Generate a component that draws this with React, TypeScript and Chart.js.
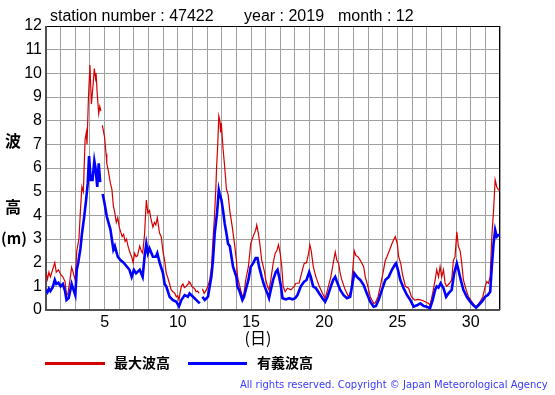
import React, { useEffect, useRef } from "react";
import { Chart, registerables } from "chart.js";

Chart.register(...registerables);

// ---- data (day of month as fractional time, wave height in metres) ----
const redDays = [
  1.0, 1.1, 1.2, 1.3, 1.45, 1.6, 1.7, 1.85, 2.0, 2.15, 2.3, 2.4, 2.5, 2.6, 2.75, 2.85, 3.0, 3.1, 3.25, 3.35,
  3.45, 3.55, 3.67, 3.75, 3.8, 3.9, 4.0, 4.1, 4.2, 4.3, 4.38, 4.42, 4.5, 4.6, 4.67, 4.75, 4.8, 4.85, 5.0, 5.1,
  5.15, 5.25, 5.4, 5.5, 5.6, 5.7, 5.8, 5.9, 6.0, 6.1, 6.2, 6.3, 6.4, 6.5, 6.6, 6.75, 6.85, 6.95, 7.05, 7.15,
  7.25, 7.4, 7.5, 7.6, 7.73, 7.85, 7.95, 8.07, 8.15, 8.3, 8.4, 8.5, 8.6, 8.75, 8.87, 8.98, 9.1, 9.21, 9.3, 9.44,
  9.55, 9.67, 9.8, 9.9, 10.0, 10.08, 10.15, 10.24, 10.35, 10.45, 10.58, 10.7, 10.76, 10.85, 10.95, 11.05, 11.15, 11.25, 11.35, 11.45,
  11.55, 11.68, 11.8, 11.95, 12.05, 12.18, 12.3, 12.4, 12.5, 12.6, 12.65, 12.72, 12.8, 12.87, 12.92, 12.97, 13.09, 13.2, 13.32, 13.43,
  13.55, 13.72, 13.89, 14.0, 14.08, 14.23, 14.41, 14.52, 14.64, 14.82, 14.98, 15.14, 15.32, 15.39, 15.5, 15.6, 15.73, 15.89, 16.01, 16.12,
  16.23, 16.35, 16.51, 16.65, 16.76, 16.87, 16.99, 17.1, 17.19, 17.33, 17.49, 17.72, 17.95, 18.06, 18.28, 18.47, 18.63, 18.79, 18.93, 19.02,
  19.11, 19.25, 19.43, 19.66, 19.88, 20.06, 20.22, 20.45, 20.61, 20.75, 20.86, 20.98, 21.09, 21.2, 21.43, 21.66, 21.84, 21.96, 22.05, 22.16,
  22.3, 22.46, 22.69, 22.8, 22.98, 23.14, 23.37, 23.48, 23.67, 23.83, 24.05, 24.17, 24.28, 24.44, 24.62, 24.76, 24.85, 24.99, 25.08, 25.22,
  25.35, 25.54, 25.76, 25.95, 26.17, 26.4, 26.63, 26.9, 27.13, 27.22, 27.4, 27.57, 27.68, 27.8, 27.91, 28.02, 28.14, 28.25, 28.36, 28.55,
  28.7, 28.82, 28.93, 29.05, 29.16, 29.28, 29.39, 29.5, 29.69, 29.85, 30.08, 30.3, 30.46, 30.64, 30.83, 30.99, 31.1, 31.21, 31.33, 31.44,
  31.56, 31.67, 31.78, 31.9, 32.0,
];
const redVals = [
  1.6, 1.3, 1.6, 1.4, 1.7, 2.0, 1.6, 1.7, 1.5, 1.4, 1.2, 0.6, 0.7, 1.1, 1.8, 1.6, 1.25, 2.5, 3.0, 4.2,
  5.2, 5.0, 7.2, 7.5, 7.0, 9.0, 10.35, 8.7, 9.4, 10.2, 9.8, 10.0, 9.1, 8.3, 8.6, 8.4, null, 7.8, 7.3, 6.6,
  6.2, 5.9, 5.35, 5.1, 4.4, 4.1, 3.7, 3.9, 3.5, 3.3, 3.1, 3.2, 2.9, 3.0, 2.7, 2.4, 2.25, 2.0, 2.4, 2.25,
  2.3, 2.7, 2.5, 2.4, 3.2, 4.65, 4.1, 4.2, 3.9, 3.5, 3.7, 3.6, 3.9, 3.25, 3.1, 2.5, 2.1, 1.55, 1.4, 1.1,
  0.85, 0.77, 0.7, 0.56, 0.6, 0.42, 0.7, 1.0, 1.1, 0.95, 1.0, 1.1, 1.2, 1.15, 1.0, 0.95, 0.9, 0.77, 0.8, 0.7,
  null, 0.9, 0.7, 0.85, 1.0, 1.27, 1.8, 2.95, 3.9, 5.2, 6.05, 6.9, 8.2, 8.0, 7.5, 7.9, 6.8, 6.05, 5.1, 4.9,
  4.2, 3.5, 2.7, 2.1, 1.4, 1.0, 0.56, 0.7, 1.27, 1.83, 2.8, 3.1, 3.38, 3.6, 3.24, 2.8, 2.1, 1.7, 1.27, 1.0,
  0.85, 1.27, 1.97, 2.4, 2.5, 2.75, 2.4, 1.83, 1.0, 0.77, 0.92, 0.85, 1.0, 1.13, 1.13, 1.6, 1.97, 2.0, 2.4, 2.75,
  2.5, 1.83, 1.4, 1.0, 0.7, 0.5, 0.85, 1.4, 1.97, 2.45, 2.1, 1.97, 1.55, 1.27, 0.85, 0.56, 0.85, 1.83, 2.5, 2.3,
  2.25, 2.1, 1.83, 1.4, 1.0, 0.56, 0.28, 0.3, 0.56, 1.0, 1.7, 2.1, 2.25, 2.5, 2.8, 3.0, 3.1, 2.8, 2.25, 1.97,
  1.48, 1.0, 0.92, 0.56, 0.42, 0.45, 0.42, 0.35, 0.28, 0.2, 0.7, 1.27, 1.7, 1.4, 1.83, 1.4, 1.7, 1.13, 1.0, 1.13,
  1.27, 2.1, 2.25, 3.3, 2.68, 2.5, 1.97, 1.27, 0.85, 0.56, 0.35, 0.14, 0.2, 0.35, 0.56, 1.0, 1.2, 1.13, 1.4, 3.1,
  4.2, 5.5, 5.2, 5.07, 5.07,
];

const blueDays = [
  1.0, 1.1, 1.2, 1.3, 1.45, 1.6, 1.7, 1.85, 2.0, 2.15, 2.3, 2.4, 2.55, 2.65, 2.75, 2.85, 3.0, 3.1, 3.2, 3.35,
  3.45, 3.6, 3.73, 3.85, 3.94, 4.05, 4.18, 4.3, 4.38, 4.5, 4.6, 4.7, 4.78, 4.87, 5.0, 5.15, 5.4, 5.6, 5.7, 5.9,
  6.1, 6.3, 6.5, 6.7, 6.85, 7.0, 7.15, 7.4, 7.6, 7.73, 7.85, 7.96, 8.07, 8.3, 8.5, 8.6, 8.76, 8.99, 9.1, 9.21,
  9.44, 9.67, 9.9, 10.08, 10.24, 10.47, 10.69, 10.8, 11.04, 11.27, 11.5, 11.58, 11.68, 11.84, 12.06, 12.29, 12.4, 12.52, 12.68, 12.8,
  12.86, 12.98, 13.09, 13.2, 13.32, 13.43, 13.55, 13.77, 14.0, 14.07, 14.23, 14.41, 14.52, 14.64, 14.82, 14.98, 15.14, 15.32, 15.44, 15.55,
  15.73, 15.89, 16.12, 16.23, 16.35, 16.51, 16.69, 16.81, 16.92, 17.03, 17.15, 17.38, 17.6, 17.83, 18.01, 18.17, 18.4, 18.63, 18.79, 18.97,
  19.08, 19.24, 19.43, 19.66, 19.88, 20.06, 20.22, 20.45, 20.61, 20.75, 20.86, 21.09, 21.32, 21.55, 21.77, 21.93, 22.05, 22.23, 22.46, 22.69,
  22.91, 23.14, 23.37, 23.53, 23.71, 23.94, 24.17, 24.4, 24.62, 24.81, 24.9, 25.03, 25.19, 25.42, 25.65, 25.88, 26.1, 26.33, 26.56, 26.79,
  27.0, 27.22, 27.4, 27.57, 27.68, 27.8, 27.95, 28.14, 28.32, 28.48, 28.7, 28.87, 29.05, 29.16, 29.32, 29.5, 29.73, 29.96, 30.19, 30.37,
  30.53, 30.76, 30.99, 31.17, 31.33, 31.44, 31.56, 31.67, 31.78, 31.9, 32.0,
];
const blueVals = [
  0.85, 0.75, 0.9, 0.8, 0.95, 1.27, 1.1, 1.15, 1.0, 1.1, 0.8, 0.42, 0.5, 0.8, 1.1, 0.9, 0.63, 1.7, 2.0, 2.6,
  3.2, 3.9, 4.6, 5.35, 6.5, 5.5, 5.5, 6.3, 6.0, 5.2, 6.2, 5.4, null, 4.9, 4.5, 3.95, 3.4, 2.55, 2.7, 2.25,
  2.1, 2.0, 1.85, 1.7, 1.4, 1.7, 1.55, 1.7, 1.4, 2.25, 2.8, 2.4, 2.6, 2.25, 2.25, 2.4, 2.0, 1.55, 1.1, 1.0,
  0.56, 0.42, 0.35, 0.15, 0.42, 0.63, 0.56, 0.7, 0.56, 0.42, 0.28, null, 0.56, 0.42, 0.56, 1.4, 2.1, 3.24, 4.1, 5.07,
  4.9, 4.65, 4.2, 3.66, 3.24, 2.8, 2.7, 1.83, 1.4, 1.0, 0.77, 0.42, 0.56, 0.85, 1.27, 1.83, 1.97, 2.2, 2.2, 1.83,
  1.4, 1.05, 0.7, 0.5, 0.85, 1.27, 1.6, 1.7, 1.4, 1.05, 0.5, 0.45, 0.5, 0.45, 0.5, 0.63, 1.0, 1.2, 1.27, 1.6,
  1.4, 1.0, 0.92, 0.7, 0.5, 0.35, 0.56, 1.0, 1.27, 1.4, 1.2, 0.85, 0.63, 0.5, 0.56, 1.13, 1.55, 1.4, 1.27, 1.05,
  0.7, 0.35, 0.14, 0.17, 0.42, 0.85, 1.27, 1.4, 1.7, 1.9, 1.97, 1.7, 1.27, 0.92, 0.63, 0.42, 0.14, 0.2, 0.28, 0.17,
  0.14, 0.07, 0.42, 0.85, 1.0, 0.95, 1.13, 0.92, 0.56, 0.7, 0.85, 1.55, 1.97, 1.7, 1.27, 0.85, 0.56, 0.35, 0.2, 0.1,
  0.2, 0.35, 0.56, 0.63, 0.77, 1.83, 2.8, 3.38, 3.1, 3.17, 3.17,
];

const yTicks = [0, 1, 2, 3, 4, 5, 6, 7, 8, 9, 10, 11, 12];
const xLabelDays = [5, 10, 15, 20, 25, 30];

const titleParts = ["station number : 47422", "year : 2019", "month : 12"];
const seriesNames = ["最大波高", "有義波高"];
const yTitleChars = ["波", "高", "(m)"];
const xTitle = "(日)";
const copyright = "All rights reserved. Copyright © Japan Meteorological Agency";

const RED = "#d40000";
const BLUE = "#0000ff";

const toPoints = (days: number[], vals: (number | null)[]) =>
  days.map((d, i) => ({ x: d, y: vals[i] }));

const decorPlugin = {
  id: "decor",
  beforeDatasetsDraw(chart: any) {
    const { ctx, chartArea } = chart;
    const { left, top, right, bottom } = chartArea;
    ctx.save();
    ctx.strokeStyle = "#000";
    ctx.lineWidth = 1;
    ctx.strokeRect(left + 0.5, top + 0.5, right - left - 1, bottom - top - 1);
    ctx.fillStyle = "#505050";
    ctx.fillRect(left - 1, top, 2, bottom - top + 1);
    ctx.fillRect(left - 1, bottom - 1, right - left + 1, 2);
    ctx.restore();
  },
  afterDraw(chart: any) {
    const { ctx } = chart;
    ctx.save();
    // title
    ctx.fillStyle = "#000";
    ctx.font = '16px "Liberation Sans", Arial, sans-serif';
    ctx.textBaseline = "alphabetic";
    ctx.textAlign = "left";
    ctx.fillText(titleParts[0], 50, 21);
    ctx.fillText(titleParts[1], 244, 21);
    ctx.fillText(titleParts[2], 338, 21);

    // y title
    ctx.textAlign = "center";
    ctx.textBaseline = "middle";
    ctx.font = 'bold 16px "Noto Sans CJK JP", sans-serif';
    ctx.fillText(yTitleChars[0], 13, 141);
    ctx.fillText(yTitleChars[1], 13, 207);
    ctx.font = 'bold 15px "Noto Sans CJK JP", sans-serif';
    ctx.fillText(yTitleChars[2], 14, 238);

    // x title
    ctx.font = '16px "Noto Sans CJK JP", sans-serif';
    ctx.fillText(xTitle, 258, 338);

    // legend
    ctx.lineWidth = 3;
    ctx.strokeStyle = RED;
    ctx.beginPath();
    ctx.moveTo(45, 363.5);
    ctx.lineTo(105, 363.5);
    ctx.stroke();
    ctx.strokeStyle = BLUE;
    ctx.beginPath();
    ctx.moveTo(188, 363.5);
    ctx.lineTo(247, 363.5);
    ctx.stroke();
    ctx.fillStyle = "#000";
    ctx.font = 'bold 14px "Noto Sans CJK JP", sans-serif';
    ctx.textAlign = "left";
    ctx.fillText(seriesNames[0], 114, 363);
    ctx.fillText(seriesNames[1], 257, 363);

    // copyright
    ctx.fillStyle = "#3a3aff";
    ctx.font = '10px "DejaVu Sans", sans-serif';
    ctx.textBaseline = "middle";
    const w0 = ctx.measureText(copyright).width;
    const spacing = Math.max(0, (308 - w0) / (copyright.length - 1));
    (ctx as any).letterSpacing = spacing.toFixed(2) + "px";
    ctx.fillText(copyright, 240, 385);
    ctx.restore();
  },
};

export default function App() {
  const ref = useRef<HTMLCanvasElement | null>(null);

  useEffect(() => {
    if (!ref.current) return;
    const chart = new Chart(ref.current, {
      type: "line",
      data: {
        datasets: [
          {
            label: seriesNames[1],
            data: toPoints(blueDays, blueVals),
            borderColor: BLUE,
            borderWidth: 2.6,
            pointRadius: 0,
            tension: 0,
            spanGaps: false,
            order: 0,
          },
          {
            label: seriesNames[0],
            data: toPoints(redDays, redVals),
            borderColor: RED,
            borderWidth: 1.2,
            pointRadius: 0,
            tension: 0,
            spanGaps: false,
            order: 1,
          },
        ],
      },
      options: {
        animation: false,
        responsive: false,
        devicePixelRatio: 1,
        events: [],
        layout: { padding: { top: 26, right: 55, bottom: 55, left: 0 } },
        plugins: { legend: { display: false }, tooltip: { enabled: false }, title: { display: false } },
        scales: {
          x: {
            type: "linear",
            min: 1,
            max: 32,
            afterFit: (s: any) => {
              s.height = 30;
            },
            ticks: {
              stepSize: 1,
              autoSkip: false,
              maxRotation: 0,
              padding: 3,
              color: "#000",
              font: { size: 16, family: '"Liberation Sans", Arial, sans-serif' },
              callback: (v: any) => (xLabelDays.includes(Number(v)) ? String(v) : ""),
            },
            grid: { color: "#a0a0a0", lineWidth: 1, drawTicks: false },
            border: { display: false },
          },
          y: {
            min: yTicks[0],
            max: yTicks[yTicks.length - 1],
            afterFit: (s: any) => {
              s.width = 46;
            },
            ticks: {
              stepSize: 1,
              padding: 4,
              color: "#000",
              font: { size: 16, family: '"Liberation Sans", Arial, sans-serif' },
              callback: (v: any) => (yTicks.includes(Number(v)) ? String(v) : ""),
            },
            grid: { color: "#a0a0a0", lineWidth: 1, drawTicks: false },
            border: { display: false },
          },
        },
      },
      plugins: [decorPlugin],
    });
    return () => chart.destroy();
  }, []);

  return (
    <div style={{ position: "absolute", left: 0, top: 0, width: 555, height: 395, background: "#fff" }}>
      <canvas ref={ref} width={555} height={395} style={{ display: "block", width: 555, height: 395 }} />
    </div>
  );
}
